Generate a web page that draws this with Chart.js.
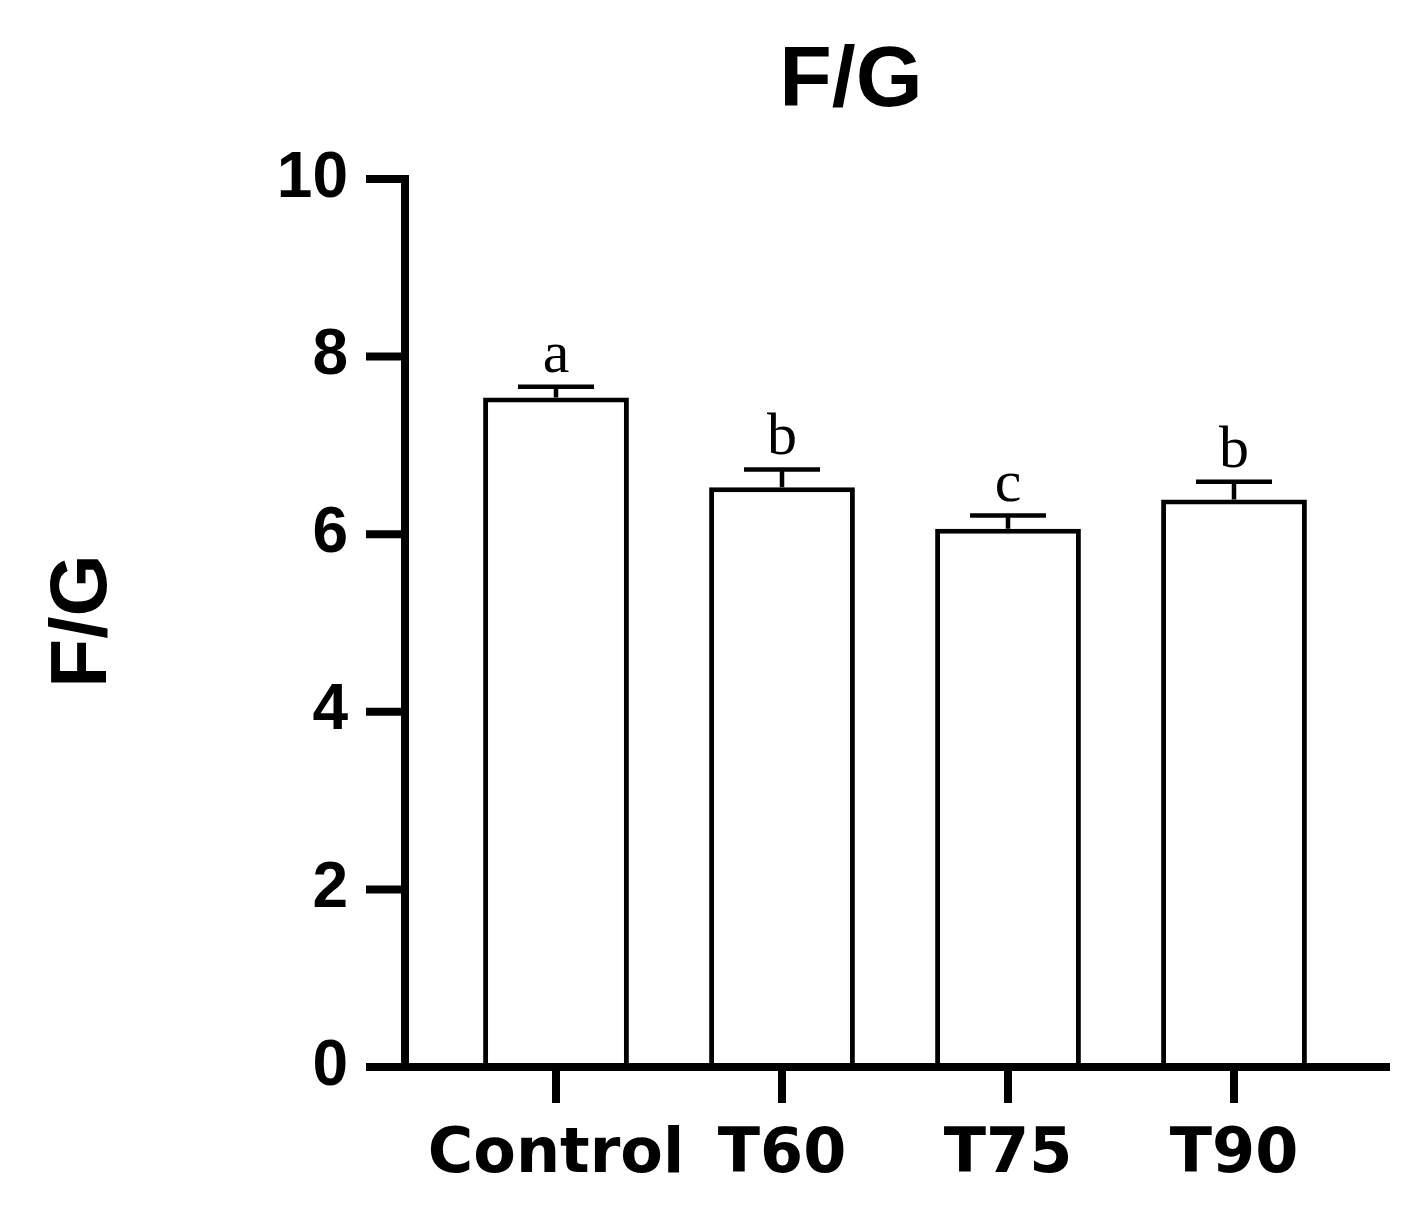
<!DOCTYPE html>
<html>
<head>
<meta charset="utf-8">
<script src="https://cdn.jsdelivr.net/npm/chart.js@4.4.1/dist/chart.umd.min.js"></script>
<style>
  html, body { margin: 0; padding: 0; background: #fff; }
  #wrap { width: 1419px; height: 1215px; }
</style>
</head>
<body>
<div id="wrap"><canvas id="fgChart" width="1419" height="1215"></canvas></div>
<script>
const groups = ['Control', 'T60', 'T75', 'T90'];
const fgMeans = [7.54, 6.53, 6.06, 6.39];
const fgErrors = [0.12, 0.20, 0.15, 0.20];
const sigLetters = ['a', 'b', 'c', 'b'];
const yTickValues = [0, 2, 4, 6, 8, 10];

const chartTitle = 'F/G';
const yAxisTitle = 'F/G';

// axis lines, error bars, letters and titles drawn on top of the bars
const prismStyle = {
    id: 'prismStyle',
    afterDatasetsDraw(chart) {
        const ctx = chart.ctx;
        const x = chart.scales.x;
        const y = chart.scales.y;
        const meta = chart.getDatasetMeta(0);
        ctx.save();
        ctx.strokeStyle = '#000';
        ctx.fillStyle = '#000';

        // error bars
        ctx.lineWidth = 4.5;
        meta.data.forEach((bar, i) => {
            const top = y.getPixelForValue(fgMeans[i]);
            const capY = y.getPixelForValue(fgMeans[i] + fgErrors[i]);
            ctx.beginPath();
            ctx.moveTo(bar.x, top);
            ctx.lineTo(bar.x, capY);
            ctx.moveTo(bar.x - 38, capY);
            ctx.lineTo(bar.x + 38, capY);
            ctx.stroke();

            ctx.font = '60px "Liberation Serif", "DejaVu Serif", serif';
            ctx.textAlign = 'center';
            ctx.textBaseline = 'alphabetic';
            ctx.fillText(sigLetters[i], bar.x, capY - 15);
        });

        // axes
        const y0 = y.getPixelForValue(0);
        const yTop = y.getPixelForValue(10);
        const axisX = chart.chartArea.left - 38;
        ctx.lineWidth = 8;
        ctx.lineCap = 'butt';
        ctx.beginPath();
        ctx.moveTo(axisX, yTop - 4);
        ctx.lineTo(axisX, y0);
        ctx.stroke();
        yTickValues.forEach(v => {
            const py = y.getPixelForValue(v);
            ctx.beginPath();
            ctx.moveTo(axisX - 39, py);
            ctx.lineTo(axisX + 4, py);
            ctx.stroke();
        });
        ctx.beginPath();
        ctx.moveTo(axisX - 39, y0);
        ctx.lineTo(chart.chartArea.right + 43, y0);
        ctx.stroke();
        groups.forEach((g, i) => {
            const px = x.getPixelForValue(i);
            ctx.beginPath();
            ctx.moveTo(px, y0);
            ctx.lineTo(px, y0 + 36);
            ctx.stroke();
        });

        // titles
        ctx.font = 'bold 86px "Liberation Sans", Arial, sans-serif';
        ctx.textAlign = 'center';
        ctx.textBaseline = 'middle';
        ctx.fillText(chartTitle, 851, 82);
        ctx.font = 'bold 80px "Liberation Sans", Arial, sans-serif';
        ctx.translate(84, 621);
        ctx.rotate(-Math.PI / 2);
        ctx.fillText(yAxisTitle, 0, 0);
        ctx.restore();
    }
};

new Chart(document.getElementById('fgChart').getContext('2d'), {
    type: 'bar',
    data: {
        labels: groups,
        datasets: [{
            label: 'F/G',
            data: fgMeans,
            backgroundColor: '#ffffff',
            borderColor: '#000000',
            borderWidth: 5,
            barPercentage: 0.645,
            categoryPercentage: 1.0
        }]
    },
    options: {
        responsive: false,
        animation: false,
        layout: { padding: { top: 179, right: 72, left: 0, bottom: 0 } },
        plugins: {
            legend: { display: false },
            title: { display: false },
            tooltip: { enabled: false }
        },
        scales: {
            x: {
                afterFit: s => { s.height = 148; },
                grid: { display: false, drawTicks: false },
                border: { display: false },
                ticks: {
                    color: '#000',
                    padding: 52,
                    autoSkip: false,
                    maxRotation: 0,
                    minRotation: 0,
                    font: { family: '"DejaVu Sans", sans-serif', size: 62, weight: 'bold' }
                }
            },
            y: {
                min: 0,
                max: 10,
                afterFit: s => { s.width = 443; },
                grid: { display: false, drawTicks: false },
                border: { display: false },
                ticks: {
                    stepSize: 2,
                    color: '#000',
                    padding: 95,
                    font: { family: '"Liberation Sans", Arial, sans-serif', size: 64, weight: 'bold' }
                }
            }
        }
    },
    plugins: [prismStyle]
});
</script>
</body>
</html>
